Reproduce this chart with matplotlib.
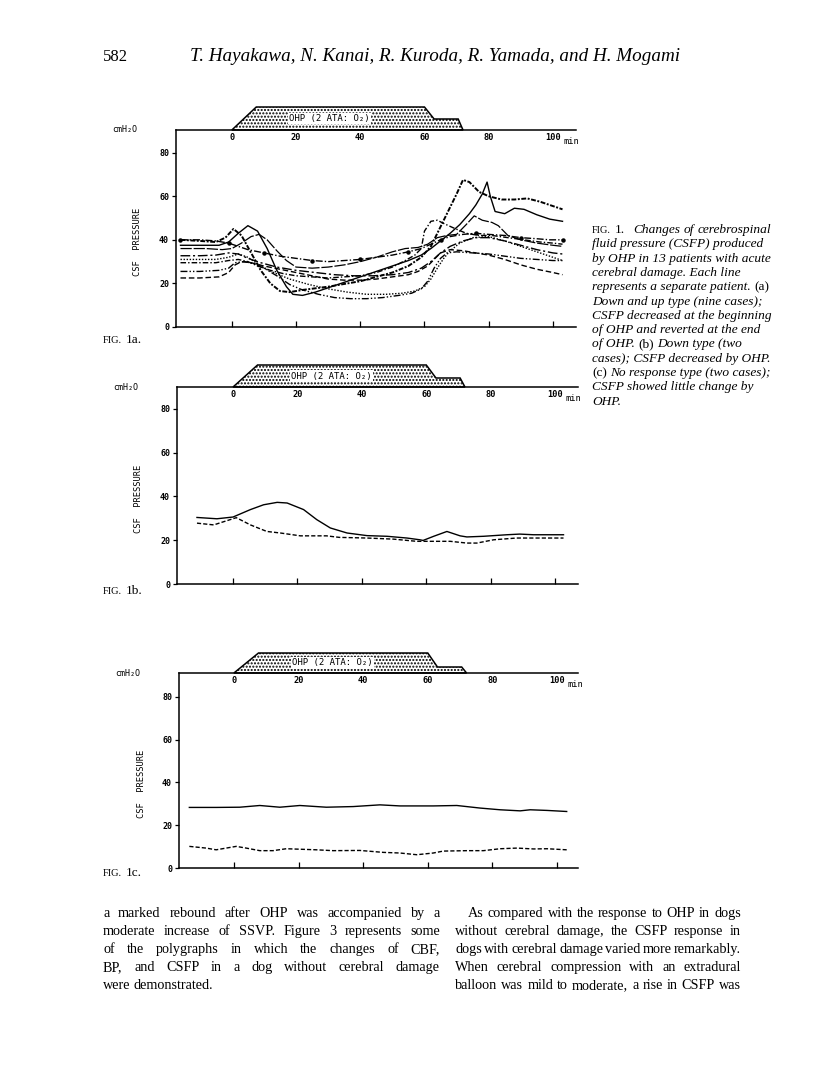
import matplotlib.pyplot as plt
from matplotlib.patches import Polygon
import matplotlib.transforms as mtransforms

W, H = 816, 1087

# OHP schedule (min, ATA)
ohp_t = [0, 7.6, 60, 63, 70.5, 72]
ohp_ata = [1, 2, 2, 1.45, 1.45, 1]

# ---- Fig 1a: down and up type, nine patients (min, cmH2O)
a1_t = [-16, -10, -4, -1, 2, 5, 8, 11, 14, 17, 19, 22, 26, 30, 35, 40, 45, 50, 55, 59, 62, 65, 68,
        71, 74, 76, 78, 79.5, 80.5, 82, 85, 88, 91, 95, 99, 103]
a1_v = [37.5, 37.5, 37.5, 39, 43, 46.5, 44, 36, 26, 18.5, 15, 14.5, 16, 18, 20.5, 23, 25.5, 28, 30.5,
        33, 36, 39.5, 43, 47, 52, 56, 61, 66.5, 60, 53, 52, 54.5, 54, 51.5, 49.5, 48.5]
a2_t = [-16, -10, -5, -2, 0.5, 3, 6, 9, 12, 15, 18, 22, 30, 40, 50, 55, 59, 62, 64, 66, 68, 70, 72,
        74, 77, 80, 84, 88, 92, 96, 100, 103]
a2_v = [40, 39.5, 39, 41, 45, 42, 34, 26, 20, 16.5, 16, 17, 18.5, 21, 25, 28, 32, 37, 43, 49, 55, 61,
        67.5, 66.5, 62, 60, 58.5, 58.5, 59, 57.5, 55.5, 54]
a3_t = [-16, -8, -3, 0, 3, 6, 8.5, 11, 14, 17, 20, 25, 30, 35, 40, 45, 50, 54, 58, 61, 64, 67, 70, 73,
        75.5, 78, 81, 83, 86, 90, 95, 100, 103]
a3_v = [36, 36, 35.5, 36, 38.5, 41.5, 42.5, 40, 35, 30.5, 27.5, 27, 27.5, 28.5, 30, 32, 34.5, 36, 36.5,
        38, 41, 42, 42.5, 47, 51, 49, 48, 46.5, 42, 40, 38.5, 37.5, 37]
a4_t = [-16, -10, -5, -1, 2, 5, 10, 15, 20, 25, 30, 35, 40, 45, 50, 55, 59, 62, 65, 68, 72, 76, 80,
        85, 90, 95, 99, 103]
a4_v = [40, 40, 39.5, 38.5, 37, 35.5, 34, 32.5, 31.5, 30.5, 30, 30.5, 31, 32, 33, 34.5, 36, 38, 40,
        41.5, 42.5, 43, 42.5, 42, 41, 40.5, 40, 40]
a5_t = [-16, -10, -4, -1, 1, 3, 6, 10, 15, 20, 25, 30, 35, 40, 45, 50, 55, 58, 61, 63, 65, 68, 72,
        76, 80, 85, 90, 95, 100, 103]
a5_v = [22.5, 22.5, 23, 25, 28.5, 30, 29.5, 28, 26.5, 25, 23.5, 22, 21.5, 21.5, 22, 23, 24, 25.5, 28,
        31, 34, 35.5, 35, 34, 33, 31, 28.5, 26.5, 25, 24]
a6_t = [-16, -10, -5, -1, 2, 5, 9, 13, 18, 24, 30, 36, 42, 48, 53, 57, 60, 62, 64, 66, 68, 71, 75,
        80, 85, 90, 95, 100, 103]
a6_v = [31, 31, 31, 32, 33.5, 32, 28, 25, 22, 19.5, 17.5, 16, 15, 15, 15.5, 16.5, 18.5, 22, 27, 31.5,
        35, 38.5, 41, 41.5, 39.5, 37, 34.5, 32, 30.5]
a7_t = [-16, -10, -4, -1, 1, 4, 7, 10, 14, 18, 22, 27, 32, 37, 42, 47, 52, 56, 59, 61, 63, 65, 67,
        70, 75, 80, 85, 90, 95, 100, 103]
a7_v = [25.5, 25.5, 26, 27, 29.5, 30, 29, 27, 23.5, 19.5, 17, 15, 13.5, 13, 13, 13.5, 14.5, 15.5,
        17.5, 21, 27, 31.5, 34, 34.5, 34, 33.5, 32.5, 31.5, 31, 30.5, 30.5]
a8_t = [-16, -10, -5, -1, 2, 5, 9, 14, 20, 26, 32, 38, 44, 50, 55, 59, 62, 65, 68, 72, 76, 80, 85,
        90, 95, 100, 103]
a8_v = [32.7, 32.7, 33, 34, 33.5, 31.5, 29.5, 27.5, 26, 25, 24, 23.5, 23.5, 24, 25, 27, 30, 34, 37,
        39.5, 41, 41, 39.5, 37.5, 35.5, 34, 33.5]
a9_t = [-16, -10, -5, -1, 2, 5, 8, 12, 16, 20, 25, 30, 35, 40, 45, 50, 54, 57, 59, 60, 62, 64, 66,
        69, 73, 77, 81, 86, 91, 96, 100, 103]
a9_v = [29.5, 29.5, 29.5, 30.5, 31, 30, 28, 26, 24.5, 23.5, 23, 22.5, 23, 23.5, 25, 27.5, 30.5, 33,
        36, 44, 48.5, 49, 47.5, 45.5, 43, 42, 42, 41, 40, 39, 38.5, 38]

# ---- Fig 1b: down type, two patients
b1_t = [-11.2, -5, 0, 5.4, 9.5, 13.7, 16.8, 21.9, 26, 30.2, 35.4, 41.6, 47.8, 54, 58, 59, 62.3,
        66.4, 70.5, 72.6, 77.8, 85, 89, 93.3, 102.6]
b1_v = [30.4, 29.8, 30.6, 34, 36.2, 37.3, 37, 34, 29.4, 25.6, 23.3, 22.1, 21.8, 21, 20.2, 19.9,
        21.8, 24, 22, 21.5, 21.8, 22.5, 22.8, 22.5, 22.5]
b2_t = [-11.2, -6, 1, 5.4, 10.5, 14.7, 20.9, 29, 33, 41.6, 49.8, 57, 62, 67.4, 72.6, 75.7, 80.9,
        88, 102.6]
b2_v = [27.8, 27, 30.3, 27, 24, 23.3, 22, 22, 21.3, 21, 20.5, 19.5, 19.5, 19.5, 18.7, 18.7, 20.2,
        21, 21]

# ---- Fig 1c: no response type, two patients
c1_t = [-13.8, -5.5, 1.8, 8, 14.2, 20.4, 28.6, 36.9, 45.2, 51.4, 61.7, 69, 76.2, 82.4, 88.6, 91.7,
        96.9, 103]
c1_v = [28.3, 28.3, 28.4, 29.2, 28.4, 29.2, 28.4, 28.7, 29.5, 29, 29, 29.2, 28, 27.2, 26.7, 27.2,
        26.9, 26.4]
c2_t = [-13.8, -8.6, -5.5, 0.7, 3.8, 8, 12.1, 16.2, 25.5, 30.7, 39, 46.2, 51.4, 56.6, 61.7, 64.8,
        72.1, 77.2, 82.4, 87.6, 92.8, 96.9, 103]
c2_v = [10.1, 9.3, 8.5, 10.1, 9.3, 8.1, 8.1, 9, 8.5, 8.1, 8.2, 7.3, 7, 6.2, 7, 7.9, 8.1, 8.1, 9,
        9.3, 8.9, 9, 8.5]

x_ticks = [0, 20, 40, 60, 80, 100]
y_ticks = [0, 20, 40, 60, 80]

SERIF = 'Liberation Serif'
MONO = 'DejaVu Sans Mono'

fig = plt.figure(figsize=(W / 100, H / 100), dpi=100)
renderer = fig.canvas.get_renderer()


def px(x, y):
    return x / W, 1 - y / H


def rect(left, right, top, bottom):
    return [left / W, 1 - bottom / H, (right - left) / W, (bottom - top) / H]


def panel(r, xlim, ylim, box_px, step_px):
    ax = fig.add_axes(r)
    ax.set_xlim(*xlim)
    ax.set_ylim(*ylim)
    ax.spines['right'].set_visible(False)
    for s in ('left', 'top', 'bottom'):
        ax.spines[s].set_linewidth(1.1)
    ax.set_xticks(x_ticks)
    ax.tick_params(axis='x', direction='in', length=4, width=0.9, labelbottom=False)
    ax.set_yticks(y_ticks)
    ax.set_yticklabels([str(v) for v in y_ticks], family=MONO, fontsize=6, fontweight='bold')
    ax.tick_params(axis='y', direction='out', length=3, width=0.9, pad=2)
    tr = mtransforms.blended_transform_factory(ax.transData, ax.transAxes)
    for v in x_ticks:
        ax.text(v, 0.985, str(v), transform=tr, ha='center', va='top',
                family=MONO, fontsize=6.2, fontweight='bold')
    ax.text(x_ticks[-1] + 3.2, 0.965, 'min', transform=tr, ha='left', va='top',
            family=MONO, fontsize=6.2)
    # OHP box above the top line
    ax_h = r[3] * H
    hs = []
    for a in ohp_ata:
        if a == 1:
            hs.append(1.0)
        elif a == 2:
            hs.append(1 + box_px / ax_h)
        else:
            hs.append(1 + step_px / ax_h)
    poly = Polygon(list(zip(ohp_t, hs)), closed=True, transform=tr, clip_on=False,
                   facecolor='white', edgecolor='black', lw=1.1, hatch='.....')
    ax.add_patch(poly)
    ax.text(30.5, 1 + box_px * 0.5 / ax_h, 'OHP (2 ATA: O\u2082)', transform=tr,
            ha='center', va='center', family=MONO, fontsize=6.5,
            bbox=dict(facecolor='white', edgecolor='none', pad=0.8))
    ax.text(-0.16, 1.0, 'cmH\u2082O', transform=ax.transAxes, ha='left', va='center',
            family=MONO, fontsize=6)
    ax.text(-0.095, 0.43, 'CSF  PRESSURE', transform=ax.transAxes, rotation=90,
            ha='center', va='center', family=MONO, fontsize=6.3)
    return ax


lc = 'black'
ax_a = panel(rect(176, 576, 130, 327), (-17.4, 107.2), (0, 90.4), 23, 11)
ax_a.plot(a1_t, a1_v, color=lc, lw=1.0, ls='-')
ax_a.plot(a2_t, a2_v, color=lc, lw=1.4, ls=(0, (2.5, 0.8, 1, 0.8)))
ax_a.plot(a3_t, a3_v, color=lc, lw=0.9, ls=(0, (9, 1.5)))
ax_a.plot(a4_t, a4_v, color=lc, lw=1.0, ls=(0, (5, 1.5, 1, 1.5)), marker='o', ms=2.2,
          markevery=3)
ax_a.plot(a5_t, a5_v, color=lc, lw=1.0, ls=(0, (4, 2)))
ax_a.plot(a6_t, a6_v, color=lc, lw=1.0, ls=(0, (1, 1.2)))
ax_a.plot(a7_t, a7_v, color=lc, lw=1.0, ls=(0, (5, 1.5, 1, 1.5, 1, 1.5)))
ax_a.plot(a8_t, a8_v, color=lc, lw=1.0, ls=(0, (7, 2, 1.5, 2)))
ax_a.plot(a9_t, a9_v, color=lc, lw=1.0, ls=(0, (4, 1.5, 1, 1.5)))

ax_b = panel(rect(177, 578, 387, 584), (-17.4, 107.1), (0, 90.0), 22, 9)
ax_b.plot(b1_t, b1_v, color=lc, lw=1.0, ls='-')
ax_b.plot(b2_t, b2_v, color=lc, lw=1.0, ls=(0, (3, 1.5)))

ax_c = panel(rect(179, 578, 673, 868), (-17.0, 106.5), (0, 91.1), 20, 6)
ax_c.plot(c1_t, c1_v, color=lc, lw=1.0, ls='-')
ax_c.plot(c2_t, c2_v, color=lc, lw=1.0, ls=(0, (3, 1.5)))

# panel labels
for lab, y in (('1a.', 343), ('1b.', 594), ('1c.', 876)):
    t = fig.text(*px(103, y), 'FIG.', family=SERIF, fontsize=7.5, va='baseline')
    w = t.get_window_extent(renderer).width
    fig.text(*px(103 + w + 4, y), lab, family=SERIF, fontsize=9.5, va='baseline')

# page header
fig.text(*px(103, 61), '582', family=SERIF, fontsize=12, va='baseline')
fig.text(*px(190, 61), 'T. Hayakawa, N. Kanai, R. Kuroda, R. Yamada, and H. Mogami',
         family=SERIF, fontsize=13.8, style='italic', va='baseline')


def width(s, size, style='normal'):
    t = fig.text(0, 0, s, family=SERIF, fontsize=size, style=style)
    w = t.get_window_extent(renderer).width
    t.remove()
    return w


# caption
cap_size = 9.6
cap_lines = [
    [('FIG.', 'n7'), ('1.', 'normal'), ('', 'gap'), ('Changes', 'italic'), ('of', 'italic'),
     ('cerebrospinal', 'italic')],
    [('fluid pressure (CSFP) produced', 'italic')],
    [('by OHP in 13 patients with acute', 'italic')],
    [('cerebral damage. Each line', 'italic')],
    [('represents a separate patient.', 'italic'), ('(a)', 'normal')],
    [('Down and up type (nine cases);', 'italic')],
    [('CSFP decreased at the beginning', 'italic')],
    [('of OHP and reverted at the end', 'italic')],
    [('of OHP.', 'italic'), ('(b)', 'normal'), ('Down type (two', 'italic')],
    [('cases); CSFP decreased by OHP.', 'italic')],
    [('(c)', 'normal'), ('No response type (two cases);', 'italic')],
    [('CSFP showed little change by', 'italic')],
    [('OHP.', 'italic')],
]
sp = width('a a', cap_size) - width('aa', cap_size)
for i, line in enumerate(cap_lines):
    x = 592
    y = 233 + i * 14.3
    for s, st in line:
        if st == 'gap':
            x += sp * 1.5
            continue
        size = 7.4 if st == 'n7' else cap_size
        style = 'normal' if st == 'n7' else st
        t = fig.text(*px(x, y), s, family=SERIF, fontsize=size, style=style, va='baseline')
        x += t.get_window_extent(renderer).width + sp

# body text (two justified columns)
body_size = 10.2
left_col = [
    'a marked rebound after OHP was accompanied by a',
    'moderate increase of SSVP. Figure 3 represents some',
    'of the polygraphs in which the changes of CBF,',
    'BP, and CSFP in a dog without cerebral damage',
    'were demonstrated.',
]
right_col = [
    'As compared with the response to OHP in dogs',
    'without cerebral damage, the CSFP response in',
    'dogs with cerebral damage varied more remarkably.',
    'When cerebral compression with an extradural',
    'balloon was mild to moderate, a rise in CSFP was',
]


def justify(line, x0, x1, y, last=False):
    words = line.split()
    ws = [width(w_, body_size) for w_ in words]
    gap = (x1 - x0 - sum(ws)) / (len(words) - 1)
    if last:
        gap = width('a a', body_size) - width('aa', body_size)
    x = x0
    for w_, ww in zip(words, ws):
        fig.text(*px(x, y), w_, family=SERIF, fontsize=body_size, va='baseline')
        x += ww + gap


for i, line in enumerate(left_col):
    justify(line, 103, 440, 917 + i * 18, last=(i == len(left_col) - 1))
for i, line in enumerate(right_col):
    x0 = 468 if i == 0 else 455
    justify(line, x0, 741, 917 + i * 18)

fig.savefig('out.png', dpi=100)
